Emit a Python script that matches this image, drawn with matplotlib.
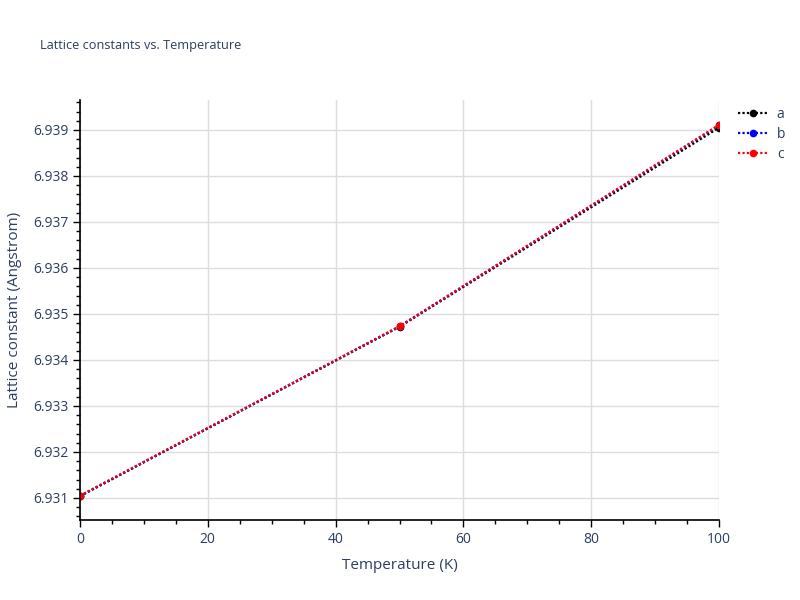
import matplotlib
matplotlib.use("Agg")
import matplotlib.pyplot as plt
from matplotlib.ticker import MultipleLocator

plt.rcParams['font.family'] = ['Open Sans', 'DejaVu Sans']

# data
temperature = [0, 50, 100]
lat_a = [6.93104, 6.93472, 6.93905]
lat_b = [6.93104, 6.93473, 6.93910]
lat_c = [6.93105, 6.93473, 6.93911]
series_names = ['a', 'b', 'c']
series_colors = ['black', 'blue', 'red']

text_col = '#2a3f5f'

fig = plt.figure(figsize=(8, 6), dpi=100)
ax = fig.add_axes([0.1, 0.1333, 0.79875, 0.7])

for vals, name, col in zip([lat_a, lat_b, lat_c], series_names, series_colors):
    ax.plot(temperature, vals, linestyle=(0, (1, 1)), linewidth=1.6, color=col,
            marker='o', markersize=4.5, markeredgecolor=col, label=name)

ax.set_xlim(0, 100)
ax.set_ylim(6.93052, 6.93965)

ax.xaxis.set_major_locator(MultipleLocator(20))
ax.xaxis.set_minor_locator(MultipleLocator(5))
ax.yaxis.set_major_locator(MultipleLocator(0.001))
ax.yaxis.set_minor_locator(MultipleLocator(0.0002))
ax.yaxis.set_major_formatter(plt.FuncFormatter(lambda v, p: f'{v:.3f}'))

ax.grid(True, which='major', color='#dcdcdc', linewidth=1)
ax.set_axisbelow(True)
for s in ['top', 'right']:
    ax.spines[s].set_visible(False)
for s in ['left', 'bottom']:
    ax.spines[s].set_color('black')
    ax.spines[s].set_linewidth(1.2)

ax.tick_params(which='major', direction='out', length=5, width=1, colors='black',
               labelcolor=text_col, labelsize=10)
ax.tick_params(which='minor', direction='out', length=3, width=1, colors='black')

ax.set_xlabel('Temperature (K)', color=text_col, fontsize=11, labelpad=8)
ax.set_ylabel('Lattice constant (Angstrom)', color=text_col, fontsize=11, labelpad=8)

fig.text(0.05, 0.925, 'Lattice constants vs. Temperature', color=text_col,
         fontsize=9.2, va='center', ha='left')

ax.legend(loc='upper left', bbox_to_anchor=(1.01, 1.013), frameon=False,
          fontsize=10, labelcolor=text_col, handlelength=2.2, handletextpad=0.6,
          labelspacing=0.35)

fig.savefig('out.png', dpi=100)
